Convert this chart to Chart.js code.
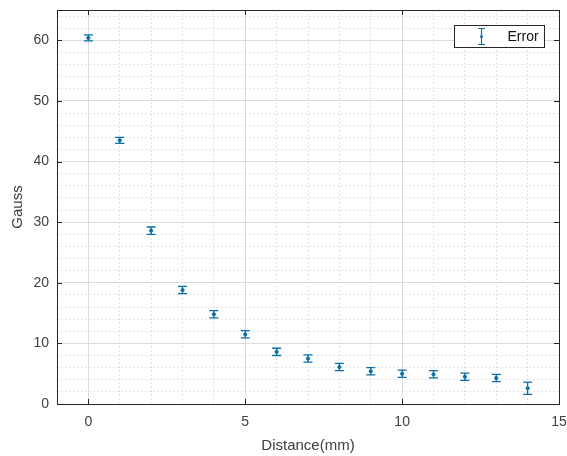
<!DOCTYPE html>
<html>
<head>
<meta charset="utf-8">
<script src="https://cdn.jsdelivr.net/npm/chart.js@4"></script>
<style>
  html, body { margin: 0; padding: 0; background: #fff; }
</style>
</head>
<body>
<canvas id="chart" width="567" height="456"></canvas>
<script>
// values
const distance = [0, 1, 2, 3, 4, 5, 6, 7, 8, 9, 10, 11, 12, 13, 14];
const gauss = [60.4, 43.5, 28.6, 18.8, 14.8, 11.5, 8.6, 7.5, 6.1, 5.4, 5.0, 4.9, 4.5, 4.3, 2.6];
const gaussErr = [0.5, 0.5, 0.6, 0.6, 0.6, 0.6, 0.6, 0.6, 0.6, 0.6, 0.6, 0.6, 0.6, 0.6, 1.0];
const xTickLabels = [0, 5, 10, 15];
const yTickLabels = [0, 10, 20, 30, 40, 50, 60];

const BLUE = "#0a6fa8";
const AXIS = "#262626";
const FONT = "'Liberation Sans', Arial, sans-serif";

const points = distance.map((d, i) => ({ x: d, y: gauss[i] }));

const fixBox = (w, h) => (s) => {
  if (w !== null) s.width = w;
  if (h !== null) s.height = h;
  s.paddingLeft = 0;
  s.paddingRight = 0;
  s.paddingTop = 0;
  s.paddingBottom = 0;
};

const errorBars = {
  id: "errorBars",
  afterDatasetsDraw(chart) {
    const { ctx, scales } = chart;
    const xs = scales.x, ys = scales.y;
    ctx.save();
    ctx.strokeStyle = BLUE;
    ctx.lineWidth = 1.3;
    distance.forEach((d, i) => {
      const px = xs.getPixelForValue(d);
      const top = ys.getPixelForValue(gauss[i] + gaussErr[i]);
      const bot = ys.getPixelForValue(gauss[i] - gaussErr[i]);
      ctx.beginPath();
      ctx.moveTo(px, top); ctx.lineTo(px, bot);
      ctx.moveTo(px - 4.5, top); ctx.lineTo(px + 4.5, top);
      ctx.moveTo(px - 4.5, bot); ctx.lineTo(px + 4.5, bot);
      ctx.stroke();
    });
    ctx.restore();
  },
  afterDraw(chart) {
    const { ctx, chartArea: a, scales } = chart;
    ctx.save();
    // axes box
    ctx.strokeStyle = AXIS;
    ctx.lineWidth = 1;
    ctx.strokeRect(Math.round(a.left) + 0.5, Math.round(a.top) + 0.5,
      Math.round(a.right - a.left), Math.round(a.bottom - a.top));
    // inward ticks
    ctx.beginPath();
    xTickLabels.forEach((v) => {
      const px = Math.round(scales.x.getPixelForValue(v)) + 0.5;
      ctx.moveTo(px, a.bottom); ctx.lineTo(px, a.bottom - 5);
      ctx.moveTo(px, a.top); ctx.lineTo(px, a.top + 5);
    });
    yTickLabels.forEach((v) => {
      const py = Math.round(scales.y.getPixelForValue(v)) + 0.5;
      ctx.moveTo(a.left, py); ctx.lineTo(a.left + 5, py);
      ctx.moveTo(a.right, py); ctx.lineTo(a.right - 5, py);
    });
    ctx.stroke();

    // legend
    const lw = 90, lh = 22;
    const lx = Math.round(a.right - 105) + 0.5, ly = Math.round(a.top + 15) + 0.5;
    ctx.fillStyle = "#fff";
    ctx.fillRect(lx, ly, lw, lh);
    ctx.strokeStyle = AXIS;
    ctx.strokeRect(lx, ly, lw, lh);
    const ix = lx + 27, iy = ly + lh / 2;
    ctx.strokeStyle = BLUE;
    ctx.lineWidth = 1.2;
    ctx.beginPath();
    ctx.moveTo(ix, iy - 8); ctx.lineTo(ix, iy + 8);
    ctx.moveTo(ix - 3.5, iy - 8); ctx.lineTo(ix + 3.5, iy - 8);
    ctx.moveTo(ix - 3.5, iy + 8); ctx.lineTo(ix + 3.5, iy + 8);
    ctx.stroke();
    ctx.fillStyle = BLUE;
    ctx.beginPath(); ctx.arc(ix, iy, 1.5, 0, Math.PI * 2); ctx.fill();
    ctx.fillStyle = "#111";
    ctx.font = "14px " + FONT;
    ctx.textBaseline = "middle";
    ctx.fillText("Error", lx + 53, iy + 1);
    ctx.restore();
  }
};

new Chart(document.getElementById("chart"), {
  type: "scatter",
  data: {
    datasets: [{
      label: "Error",
      data: points,
      borderColor: BLUE,
      backgroundColor: BLUE,
      pointRadius: 1.6,
      pointHoverRadius: 1.6,
      showLine: false
    }]
  },
  options: {
    responsive: false,
    animation: false,
    layout: { padding: { top: 10, right: 8, left: 0, bottom: 0 } },
    plugins: { legend: { display: false }, tooltip: { enabled: false } },
    scales: {
      xMinor: {
        type: "linear", position: "bottom", min: -1, max: 15,
        ticks: { display: false, stepSize: 1, includeBounds: false },
        grid: {
          drawTicks: false, lineWidth: 1,
          color: (c) => (c.tick && (c.tick.value % 5 === 0 || c.tick.value < 0)) ? "rgba(0,0,0,0)" : "#e6e6e6"
        },
        border: { display: false, dash: [2, 2] },
        afterFit: fixBox(null, 0)
      },
      yMinor: {
        type: "linear", position: "left", min: 0, max: 65,
        ticks: { display: false, stepSize: 2, includeBounds: false },
        grid: {
          drawTicks: false, lineWidth: 1,
          color: (c) => (c.tick && c.tick.value % 10 === 0) ? "rgba(0,0,0,0)" : "#e6e6e6"
        },
        border: { display: false, dash: [2, 2] },
        afterFit: fixBox(0, null)
      },
      x: {
        type: "linear", position: "bottom", min: -1, max: 15,
        ticks: {
          stepSize: 5, includeBounds: false, padding: 10, maxRotation: 0,
          color: "#404040", font: { family: FONT, size: 14 },
          callback: (v) => xTickLabels.includes(v) ? String(v) : ""
        },
        grid: { drawTicks: false, color: (c) => c.tick && c.tick.value < 0 ? "rgba(0,0,0,0)" : "#dcdcdc" },
        border: { display: false },
        title: {
          display: true, text: "Distance(mm)", color: "#404040",
          font: { family: FONT, size: 15 }, padding: { top: 0, bottom: 1 }
        },
        afterFit: fixBox(null, 52)
      },
      y: {
        type: "linear", position: "left", min: 0, max: 65,
        ticks: {
          stepSize: 10, includeBounds: false, padding: 8,
          color: "#404040", font: { family: FONT, size: 14 },
          callback: (v) => yTickLabels.includes(v) ? String(v) : ""
        },
        grid: { drawTicks: false, color: "#dcdcdc" },
        border: { display: false },
        title: {
          display: true, text: "Gauss", color: "#404040",
          font: { family: FONT, size: 15 }, padding: { top: 9, bottom: 0 }
        },
        afterFit: fixBox(57, null)
      }
    }
  },
  plugins: [errorBars]
});
</script>
</body>
</html>
